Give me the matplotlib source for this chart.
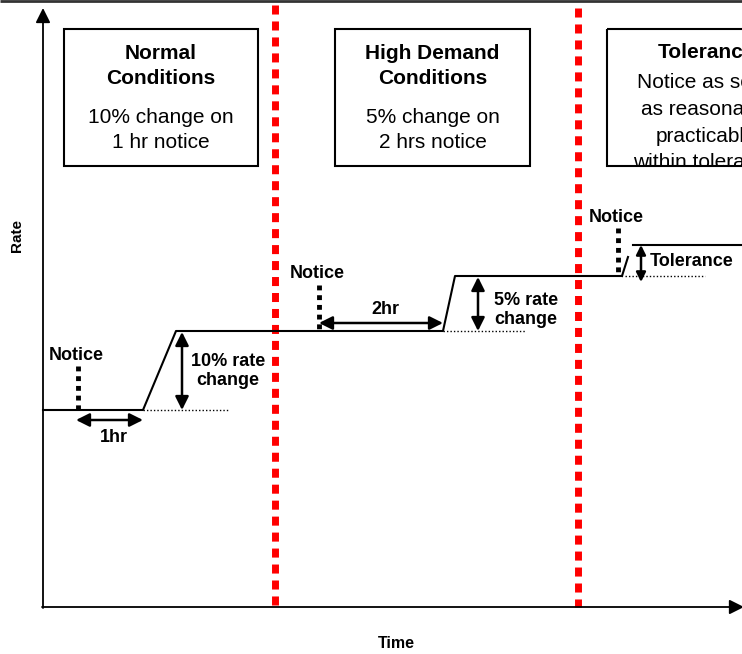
import numpy as np
import matplotlib.pyplot as plt

plt.rcParams['font.family'] = ['Liberation Sans', 'DejaVu Sans']

# schematic coordinates (pixel-like units: time right, rate up)
profile_t = [43, 143, 176, 443, 455, 622]
profile_rate = [410, 410, 331, 331, 276, 276]
tol_slash_t = [622, 628]
tol_slash_rate = [276, 257]
tol_upper_t = [633, 742]
tol_upper_rate = [245, 245]

# dotted "old level" continuations
old_level_t = [(143, 228), (443, 525), (625, 705)]
old_level_rate = [410, 331, 276]

# notice markers: time, top, bottom
notice_t = [78, 319, 618]
notice_top = [366, 285, 228]
notice_bot = [410, 331, 276]

# horizontal notice-period arrows
period_labels = ['1hr', '2hr']
period_t0 = [76, 319]
period_t1 = [143, 443]
period_rate = [420, 323]
period_label_rate = [437, 309]

# vertical rate-change arrows
change_labels = ['10% rate\nchange', '5% rate\nchange', 'Tolerance']
change_t = [182, 478, 641]
change_top = [332, 277, 245]
change_bot = [410, 331, 282]
change_label_t = [228, 526, 650]
change_label_rate = [371, 310, 262]

# regime boundaries
boundary_t = [275, 578]
boundary_top = [5, 8]

# boxes
box_titles = ['Normal\nConditions', 'High Demand\nConditions', 'Tolerance']
box_bodies = ['10% change on\n1 hr notice', '5% change on\n2 hrs notice',
              'Notice as soon\nas reasonably\npracticable\nwithin tolerance']
box_left = [64, 335, 607]
box_right = [258, 530, 805]

fig = plt.figure(figsize=(7.42, 6.54), dpi=100)
ax = fig.add_axes([0, 0, 1, 1])
ax.set_xlim(0, 742)
ax.set_ylim(654, 0)
ax.axis('off')

# top border
ax.plot([0, 742], [1, 1], color='#333333', lw=2, solid_capstyle='butt')

# axes arrows
ax.annotate('', xy=(43, 8), xytext=(43, 608), annotation_clip=False,
            arrowprops=dict(arrowstyle='-|>', color='black', lw=1.3, mutation_scale=22,
                            shrinkA=0, shrinkB=0))
ax.annotate('', xy=(744, 607), xytext=(42, 607), annotation_clip=False,
            arrowprops=dict(arrowstyle='-|>', color='black', lw=1.3, mutation_scale=22,
                            shrinkA=0, shrinkB=0))
ax.text(17, 236, 'Rate', rotation=90, ha='center', va='center', fontsize=11, fontweight='bold')
ax.text(396, 644, 'Time', ha='center', va='center', fontsize=11.5, fontweight='bold')

# red boundaries
for bt, btop in zip(boundary_t, boundary_top):
    ax.plot([bt, bt], [btop, 607], color='#ff0000', lw=5, linestyle=(0, (1.3, 1.0)),
            dash_capstyle='butt', zorder=1)

# rate profile
ax.plot(profile_t, profile_rate, color='black', lw=1.5)
ax.plot(tol_slash_t, tol_slash_rate, color='black', lw=1.5)
ax.plot(tol_upper_t, tol_upper_rate, color='black', lw=1.5)

for (t0, t1), r in zip(old_level_t, old_level_rate):
    ax.plot([t0, t1], [r, r], color='black', lw=1, linestyle=(0, (1, 1.5)))

# notices
for nt, ntop, nbot in zip(notice_t, notice_top, notice_bot):
    ax.plot([nt, nt], [ntop, nbot], color='black', lw=3.5, linestyle=(0, (1, 1)),
            dash_capstyle='butt')
    ax.text(nt - 2, ntop - 11, 'Notice', ha='center', va='center', fontsize=13, fontweight='bold')

for lab, t0, t1, r, lr in zip(period_labels, period_t0, period_t1, period_rate, period_label_rate):
    ax.annotate('', xy=(t0, r), xytext=(t1, r),
                arrowprops=dict(arrowstyle='<|-|>', color='black', lw=1.8, mutation_scale=20,
                                shrinkA=0, shrinkB=0))
    ax.text((t0 + t1) / 2 + 4, lr, lab, ha='center', va='center', fontsize=13, fontweight='bold')

for i, (lab, ct, top, bot) in enumerate(zip(change_labels, change_t, change_top, change_bot)):
    ax.annotate('', xy=(ct, top), xytext=(ct, bot),
                arrowprops=dict(arrowstyle='<|-|>', color='black', lw=1.8,
                                mutation_scale=20 if i < 2 else 14, shrinkA=0, shrinkB=0))
    ha = 'left' if lab == 'Tolerance' else 'center'
    ax.text(change_label_t[i], change_label_rate[i], lab, ha=ha, va='center', fontsize=13,
            fontweight='bold', linespacing=1.15)

# boxes
for title, body, bl, br in zip(box_titles, box_bodies, box_left, box_right):
    rect = plt.Rectangle((bl, 29), br - bl, 137, fill=False, ec='black', lw=1.5, zorder=6)
    ax.add_patch(rect)
    cx = (bl + br) / 2
    if title == 'Tolerance':
        ax.text(cx, 52, title, ha='center', va='center', fontsize=15, fontweight='bold')
        ax.text(cx, 73, body, ha='center', va='top', fontsize=15, linespacing=1.52, zorder=4)
        # text overflowing the box is hidden under the box edge, as in the original
        ax.add_patch(plt.Rectangle((bl - 2, 167), br - bl + 4, 12, fc='white', ec='none', zorder=5))
    else:
        ax.text(cx, 66, title, ha='center', va='center', fontsize=15, fontweight='bold',
                linespacing=1.36)
        ax.text(cx, 130, body, ha='center', va='center', fontsize=15, linespacing=1.42)

fig.savefig('out.png', dpi=100)
